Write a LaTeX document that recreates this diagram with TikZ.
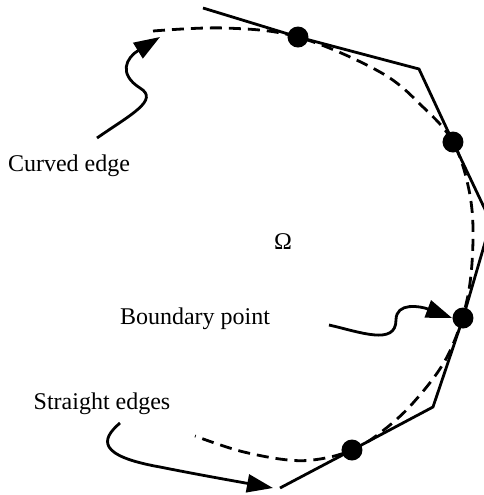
\documentclass[tikz,border=0pt]{standalone}
\usepackage{fontspec}
\setmainfont{Liberation Serif}
\usetikzlibrary{arrows.meta}

\tikzset{
  bpoint/.style={circle, fill=black, inner sep=0pt, minimum size=10.5pt},
  lbl/.style={font=\fontsize{12}{14}\selectfont, inner sep=1pt},
  edgeline/.style={line width=1.4pt, line join=miter},
  curveline/.style={line width=1.4pt, dash pattern=on 6pt off 3.5pt},
  pointer/.style={line width=1.4pt, -{Triangle[length=13pt, width=9pt]}}
}

\begin{document}
\begin{tikzpicture}[x=0.5pt, y=-0.5pt]
\path[use as bounding box] (0,0) rectangle (484,495);

% Curved boundary
\draw[curveline] plot[smooth, tension=0.6] coordinates {
  (153,31) (225,28) (298,37) (380,72) (423,107) (453,142) (469,190)
  (473,240) (467,300) (447,357) (413,403) (380,433) (352,450)
  (320,459) (288,460) (240,451) (195,436)};

% Straight edges
\draw[edgeline] (203,8) -- (298,37) -- (419,69) -- (453,142) -- (491,222)
  -- (463,318) -- (433,407) -- (352,450) -- (280,488);

% Boundary points
\node[bpoint] (b1) at (298,37) {};
\node[bpoint] (b2) at (453,142) {};
\node[bpoint] (b3) at (463,318) {};
\node[bpoint] (b4) at (352,450) {};

% Labels
\node[lbl] (curved) at (69,166) {Curved edge};
\node[lbl] (omega) at (283,242) {Ω};
\node[lbl] (bpt) at (195,319) {Boundary point};
\node[lbl] (straight) at (102,404) {Straight edges};

% Pointers
\coordinate (cs) at (97,138);
\coordinate (ce) at (160,37);
\coordinate (bs) at (329,325);
\coordinate (ss) at (120,423);
\coordinate (se) at (273,488);

\draw[pointer] (cs) .. controls (130,115) and (160,100) .. (140,88)
  .. controls (118,74) and (126,58) .. (ce);
\draw[pointer] (bs) .. controls (360,332) and (396,346) .. (396,320)
  .. controls (396,302) and (420,306) .. (b3.west);
\draw[pointer] (ss) .. controls (100,440) and (98,456) .. (160,467)
  .. controls (200,475) and (240,482) .. (se);

\end{tikzpicture}
\end{document}
